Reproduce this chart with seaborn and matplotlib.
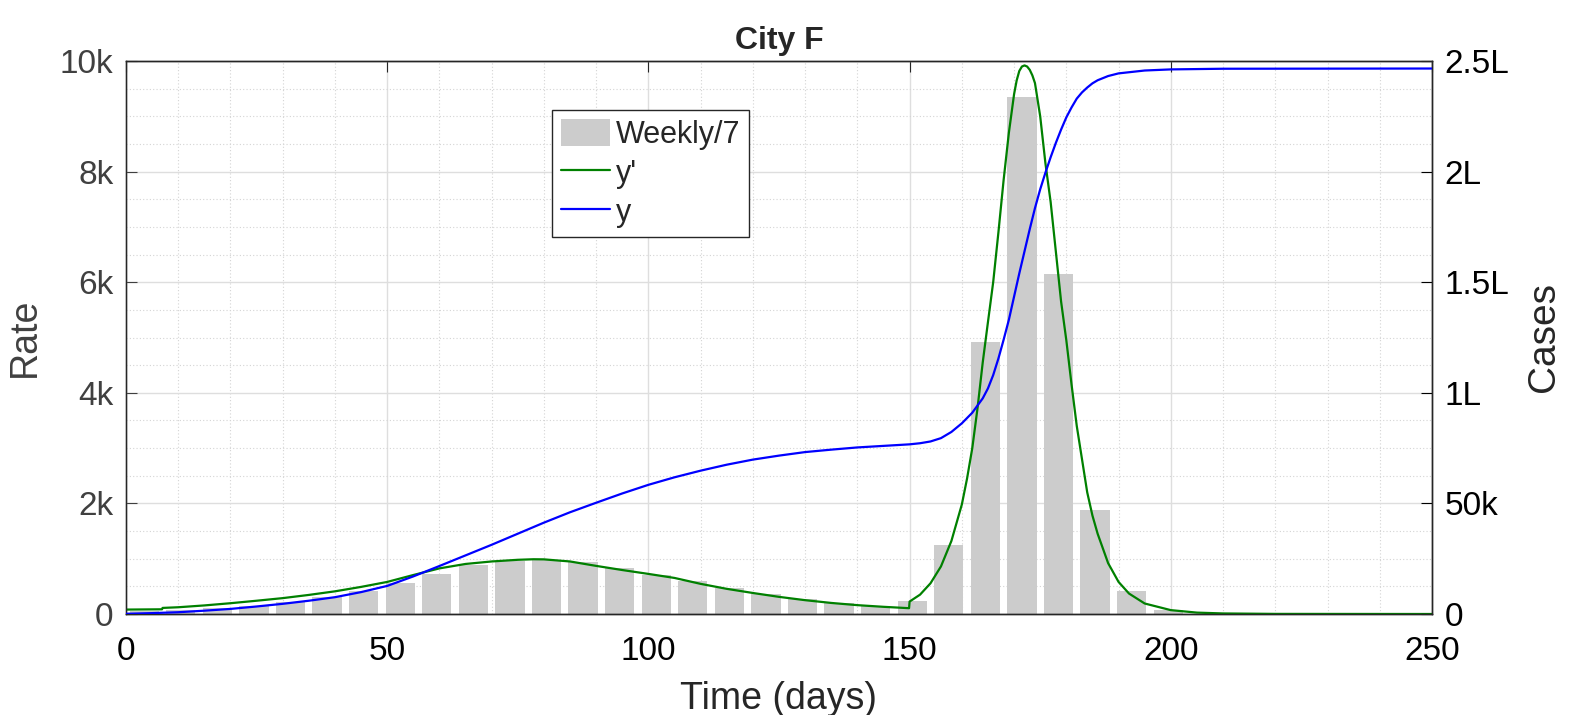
import seaborn as sns
import matplotlib.pyplot as plt
from matplotlib.ticker import MultipleLocator

sns.set_style("white")
plt.rcParams['font.family'] = ['Liberation Sans', 'DejaVu Sans']

# weekly bars (daily average of each week), plotted at mid-week
week_mid = [3.5, 10.5, 17.5, 24.5, 31.5, 38.5, 45.5, 52.5, 59.5, 66.5,
            73.5, 80.5, 87.5, 94.5, 101.5, 108.5, 115.5, 122.5, 129.5, 136.5,
            143.5, 150.5, 157.5, 164.5, 171.5, 178.5, 185.5, 192.5, 199.5]
weekly_avg = [50, 80, 110, 150, 210, 300, 410, 560, 730, 880,
              960, 975, 940, 840, 710, 590, 470, 360, 270, 195,
              146, 235, 1250, 4920, 9340, 6150, 1880, 420, 70]

# y' (rate), left axis
rate_days = [0, 6.9, 7.0, 10, 15, 20, 25, 30, 35, 40, 45, 50, 55, 60, 65, 70,
             75, 78, 80, 85, 90, 95, 100, 105, 110, 115, 120, 125, 130, 135,
             140, 145, 149.9, 150, 152, 154, 156, 158, 160, 161, 162, 163, 164,
             165, 166, 167, 168, 169, 170, 170.5, 171, 171.5, 172, 172.5, 173,
             173.5, 174, 175, 176, 177, 178, 179, 180, 181, 182, 183, 184, 185,
             186, 188, 190, 192, 195, 200, 205, 210, 220, 250]
rate = [80, 85, 110, 122, 155, 195, 240, 287, 345, 410, 490, 580, 705, 825, 905, 950,
        980, 990, 988, 950, 870, 795, 725, 652, 545, 455, 380, 310, 250, 200,
        160, 130, 105, 225, 350, 555, 860, 1320, 1980, 2450, 3000, 3720, 4550,
        5280, 6000, 6900, 7850, 8700, 9400, 9650, 9820, 9900, 9920, 9900, 9840,
        9740, 9600, 9000, 8150, 7450, 6550, 5650, 4950, 4150, 3400, 2800, 2200, 1780,
        1450, 920, 580, 370, 190, 70, 25, 10, 2, 0]

# y (cumulative cases), right axis
case_days = [0, 5, 10, 15, 20, 25, 30, 35, 40, 45, 50, 55, 60, 65, 70, 75, 80,
             85, 90, 95, 100, 105, 110, 115, 120, 125, 130, 135, 140, 145, 150,
             152, 154, 156, 158, 160, 162, 164, 165, 166, 167, 168, 169, 170, 171,
             172, 173, 174, 175, 176, 177, 178, 179, 180, 181, 182, 183, 184, 185,
             186, 188, 190, 195, 200, 210, 250]
cases = [100, 400, 800, 1500, 2300, 3400, 4600, 6000, 7600, 9900, 12700, 17000,
         21700, 26500, 31300, 36300, 41300, 46000, 50300, 54500, 58400, 61800,
         64800, 67500, 69800, 71600, 73200, 74300, 75300, 76000, 76700,
         77200, 78000, 79500, 82300, 86200, 91000, 97500, 102000, 108000, 115500,
         124000, 133000, 143500, 154000, 164000, 174000, 183500, 192000,
         199500, 206500, 213000, 219000, 224500, 229000, 233000, 235800, 238000,
         239900, 241300, 243200, 244400, 245700, 246200, 246500, 246600]

x_ticks = [0, 50, 100, 150, 200, 250]
rate_ticks = [0, 2000, 4000, 6000, 8000, 10000]
rate_labels = ['0', '2k', '4k', '6k', '8k', '10k']
case_ticks = [0, 50000, 100000, 150000, 200000, 250000]
case_labels = ['0', '50k', '1L', '1.5L', '2L', '2.5L']

fig = plt.figure(figsize=(15.69, 7.15), dpi=100)
ax = fig.add_axes([126 / 1569, 1 - 614 / 715, 1306 / 1569, 553 / 715])

sns.barplot(x=week_mid, y=weekly_avg, native_scale=True, width=0.8,
            color='#cccccc', saturation=1, errorbar=None, ax=ax,
            edgecolor='none', zorder=2)
sns.lineplot(x=rate_days, y=rate, color='#008000', lw=1.6, ax=ax, zorder=3)

ax.set_xlim(0, 250)
ax.set_ylim(0, 10000)
ax.set_xticks(x_ticks)
ax.set_xticklabels([str(t) for t in x_ticks])
ax.set_yticks(rate_ticks)
ax.set_yticklabels(rate_labels)
ax.xaxis.set_minor_locator(MultipleLocator(10))
ax.yaxis.set_minor_locator(MultipleLocator(500))
ax.grid(which='major', color='#dedede', lw=1.0, ls='-')
ax.grid(which='minor', color='#d4d4d4', lw=0.8, ls=(0, (1, 2)))
ax.set_axisbelow(True)
ax.tick_params(axis='x', which='major', direction='in', length=8, top=True,
               labelsize=24, pad=16, colors='#262626', labelcolor='black')
ax.tick_params(axis='y', which='major', direction='in', length=8, right=False,
               labelsize=24, pad=9, colors='#404040')
ax.tick_params(which='minor', length=0)
ax.set_xlabel('Time (days)', fontsize=27, color='#262626', labelpad=10)
ax.set_ylabel('Rate', fontsize=27, color='#404040', labelpad=12)
ax.set_title('City F', fontsize=23, fontweight='bold', pad=9)

ax2 = ax.twinx()
sns.lineplot(x=case_days, y=cases, color='#0000ff', lw=1.6, ax=ax2, zorder=3)
ax2.set_ylim(0, 250000)
ax2.set_yticks(case_ticks)
ax2.set_yticklabels(case_labels)
ax2.tick_params(axis='y', direction='in', length=8, labelsize=24, pad=9,
                colors='black')
ax2.set_ylabel('Cases', fontsize=28, labelpad=12)

for a in (ax, ax2):
    for s in a.spines.values():
        s.set_color('#262626')
        s.set_linewidth(1.0)
ax.spines['left'].set_color('#7a7a7a')

handles = [ax.containers[0], ax.lines[0], ax2.lines[0]]
leg = ax2.legend(handles, ['Weekly/7', "y'", 'y'], loc='upper left',
                 bbox_to_anchor=(0.3262, 0.9114), borderaxespad=0,
                 fontsize=22, frameon=True, fancybox=False, edgecolor='#262626',
                 framealpha=1, handlelength=1.6, handleheight=0.95,
                 handletextpad=0.18, labelspacing=0.27, borderpad=0.3)
leg.get_frame().set_linewidth(1.0)

fig.savefig('out.png', dpi=100)
